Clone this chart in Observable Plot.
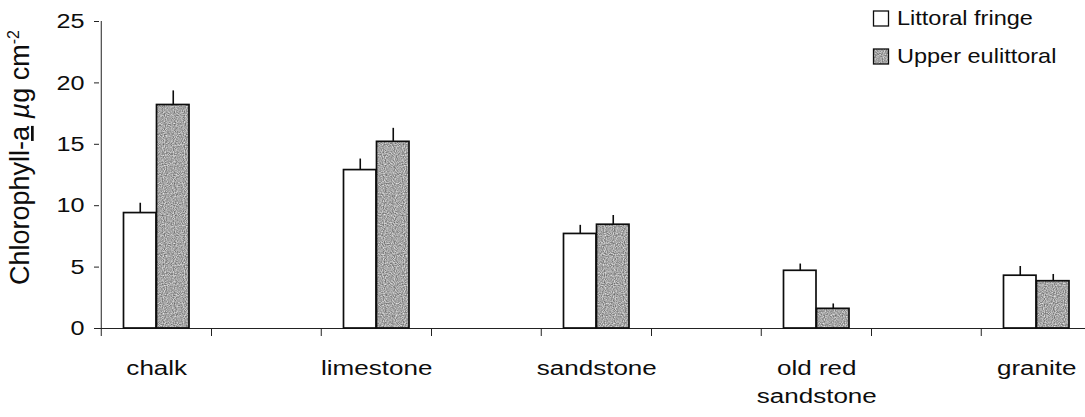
<!DOCTYPE html>
<html>
<head>
<meta charset="utf-8">
<script src="https://cdn.jsdelivr.net/npm/d3@7"></script>
<script src="https://cdn.jsdelivr.net/npm/@observablehq/plot@0.6"></script>
<style>
  html, body { margin: 0; padding: 0; background: #fff; }
  #chart { width: 1085px; height: 417px; overflow: hidden; }
</style>
</head>
<body>
<div id="chart"></div>
<script>
// Chlorophyll-a on five rock types, two shore zones (mean + upper error bar)
const categories = ["chalk", "limestone", "sandstone", "old red sandstone", "granite"];
const categoryLabels = ["chalk", "limestone", "sandstone", "old red\nsandstone", "granite"];
const series = ["Littoral fringe", "Upper eulittoral"];
const fringe = [9.4, 12.9, 7.7, 4.7, 4.3];
const fringeErr = [0.8, 0.9, 0.7, 0.55, 0.75];
const upper = [18.2, 15.2, 8.45, 1.6, 3.85];
const upperErr = [1.15, 1.1, 0.75, 0.4, 0.55];
const yTicks = [0, 5, 10, 15, 20, 25];

const rows = categories.flatMap((category, i) => [
  {category, series: series[0], value: fringe[i], err: fringeErr[i]},
  {category, series: series[1], value: upper[i], err: upperErr[i]}
]);
const rowsFringe = rows.filter(d => d.series === series[0]);
const rowsUpper = rows.filter(d => d.series === series[1]);

// layout: each rock type takes a wide slot; the bar pair sits in its left half
const W = 1085, H = 417;
const x0 = 100, slot = 220.5, half = slot / 2;
const barW = 33, barStart = 22.5;
const GREY = "#a5a5a5", INK = "#0d0d0d";
const FONT = 21;

const labelOf = new Map(categories.map((c, i) => [c, categoryLabels[i]]));

const svg = Plot.plot({
  width: W,
  height: H,
  marginLeft: 99,
  marginRight: 0,
  marginTop: 21,
  marginBottom: 89,
  style: {fontFamily: "'Liberation Sans', Arial, sans-serif", color: INK, background: "#fff"},
  x: {domain: categories, range: [x0, x0 + categories.length * slot], padding: 0},
  y: {domain: [0, 25]},
  marks: [
    // y axis line
    Plot.ruleX([categories[0]], {x: d => d, dx: -half, y1: 0, y2: 25, stroke: "#222", strokeWidth: 1}),
    Plot.axisY({ticks: yTicks, tickSize: 5, tickPadding: 10, fontSize: FONT, label: null, stroke: "#222"}),
    // x axis line
    Plot.ruleY([0], {stroke: "#222", strokeWidth: 1.2}),
    // slot boundary and mid-slot ticks
    Plot.axisX({tickSize: 8, tickFormat: () => "", label: null, stroke: "#222"}),
    Plot.axisX({tickSize: 8, tickFormat: () => "", label: null, stroke: "#222", dx: -half}),
    // category labels, centred under the bar pairs
    Plot.axisX({tickSize: 0, tickPadding: 27, fontSize: FONT, label: null, lineHeight: 1.32,
      tickFormat: d => labelOf.get(d), dx: -half + barStart + barW}),
    // bars
    Plot.barY(rowsFringe, {x: "category", y: "value", fill: "white", stroke: INK, strokeWidth: 1.7,
      insetLeft: barStart, insetRight: slot - barStart - barW}),
    Plot.barY(rowsUpper, {x: "category", y: "value", fill: GREY, stroke: INK, strokeWidth: 1.7,
      insetLeft: barStart + barW, insetRight: slot - barStart - 2 * barW}),
    // upper error bars
    Plot.ruleX(rowsFringe, {x: "category", y1: "value", y2: d => d.value + d.err,
      dx: -half + barStart + barW / 2, stroke: INK, strokeWidth: 1.6}),
    Plot.ruleX(rowsUpper, {x: "category", y1: "value", y2: d => d.value + d.err,
      dx: -half + barStart + 1.5 * barW, stroke: INK, strokeWidth: 1.6})
  ]
});

const root = d3.select(svg);

// stippled grey fill for the upper eulittoral bars
const defs = root.insert("defs", ":first-child");
const filter = defs.append("filter").attr("id", "grain").attr("x", 0).attr("y", 0)
  .attr("width", 1).attr("height", 1).attr("color-interpolation-filters", "sRGB");
filter.append("feTurbulence").attr("type", "fractalNoise").attr("baseFrequency", 0.9)
  .attr("numOctaves", 1).attr("seed", 3).attr("result", "noise");
filter.append("feColorMatrix").attr("in", "noise").attr("type", "matrix")
  .attr("values", "0.8 0 0 0 0.25  0.8 0 0 0 0.25  0.8 0 0 0 0.25  0 0 0 0 1");
const pattern = defs.append("pattern").attr("id", "stipple").attr("patternUnits", "userSpaceOnUse")
  .attr("width", 120).attr("height", 120);
pattern.append("rect").attr("width", 120).attr("height", 120).attr("fill", GREY).attr("filter", "url(#grain)");
root.selectAll(`[fill="${GREY}"]`).filter(function() { return !this.closest("pattern"); })
  .attr("fill", "url(#stipple)");

// the printed lettering is wide: stretch each label horizontally about its anchor
function widen(sel, s) {
  sel.each(function() {
    const tr = this.getAttribute("transform") || "";
    this.setAttribute("transform", `${tr} scale(${s},1)`);
  });
}
widen(root.selectAll("g[aria-label='y-axis tick label'] text"), 1.2);
widen(root.selectAll("g[aria-label='x-axis tick label'] text"), 1.24);

// y axis title with underlined a, micro sign and superscript
const title = root.append("text")
  .attr("transform", "translate(29,285) rotate(-90)")
  .attr("font-size", 27).attr("fill", INK).attr("text-anchor", "start");
title.append("tspan").text("Chlorophyll-");
title.append("tspan").attr("text-decoration", "underline").text("a");
title.append("tspan").text(" ");
title.append("tspan").attr("font-style", "italic").text("µ");
title.append("tspan").text("g cm");
title.append("tspan").attr("font-size", 16).attr("dy", -10).text("-2");

// legend
const legend = root.append("g").attr("font-size", FONT).attr("fill", INK).attr("text-anchor", "start");
const items = [
  {label: series[0], fill: "white", y: 11},
  {label: series[1], fill: "url(#stipple)", y: 49}
];
for (const it of items) {
  legend.append("rect").attr("x", 873.5).attr("y", it.y).attr("width", 15).attr("height", 15)
    .attr("fill", it.fill).attr("stroke", INK).attr("stroke-width", 1.3);
  legend.append("text").attr("transform", `translate(897,${it.y + 13.5}) scale(1.12,1)`).text(it.label);
}

document.getElementById("chart").appendChild(svg);
</script>
</body>
</html>
